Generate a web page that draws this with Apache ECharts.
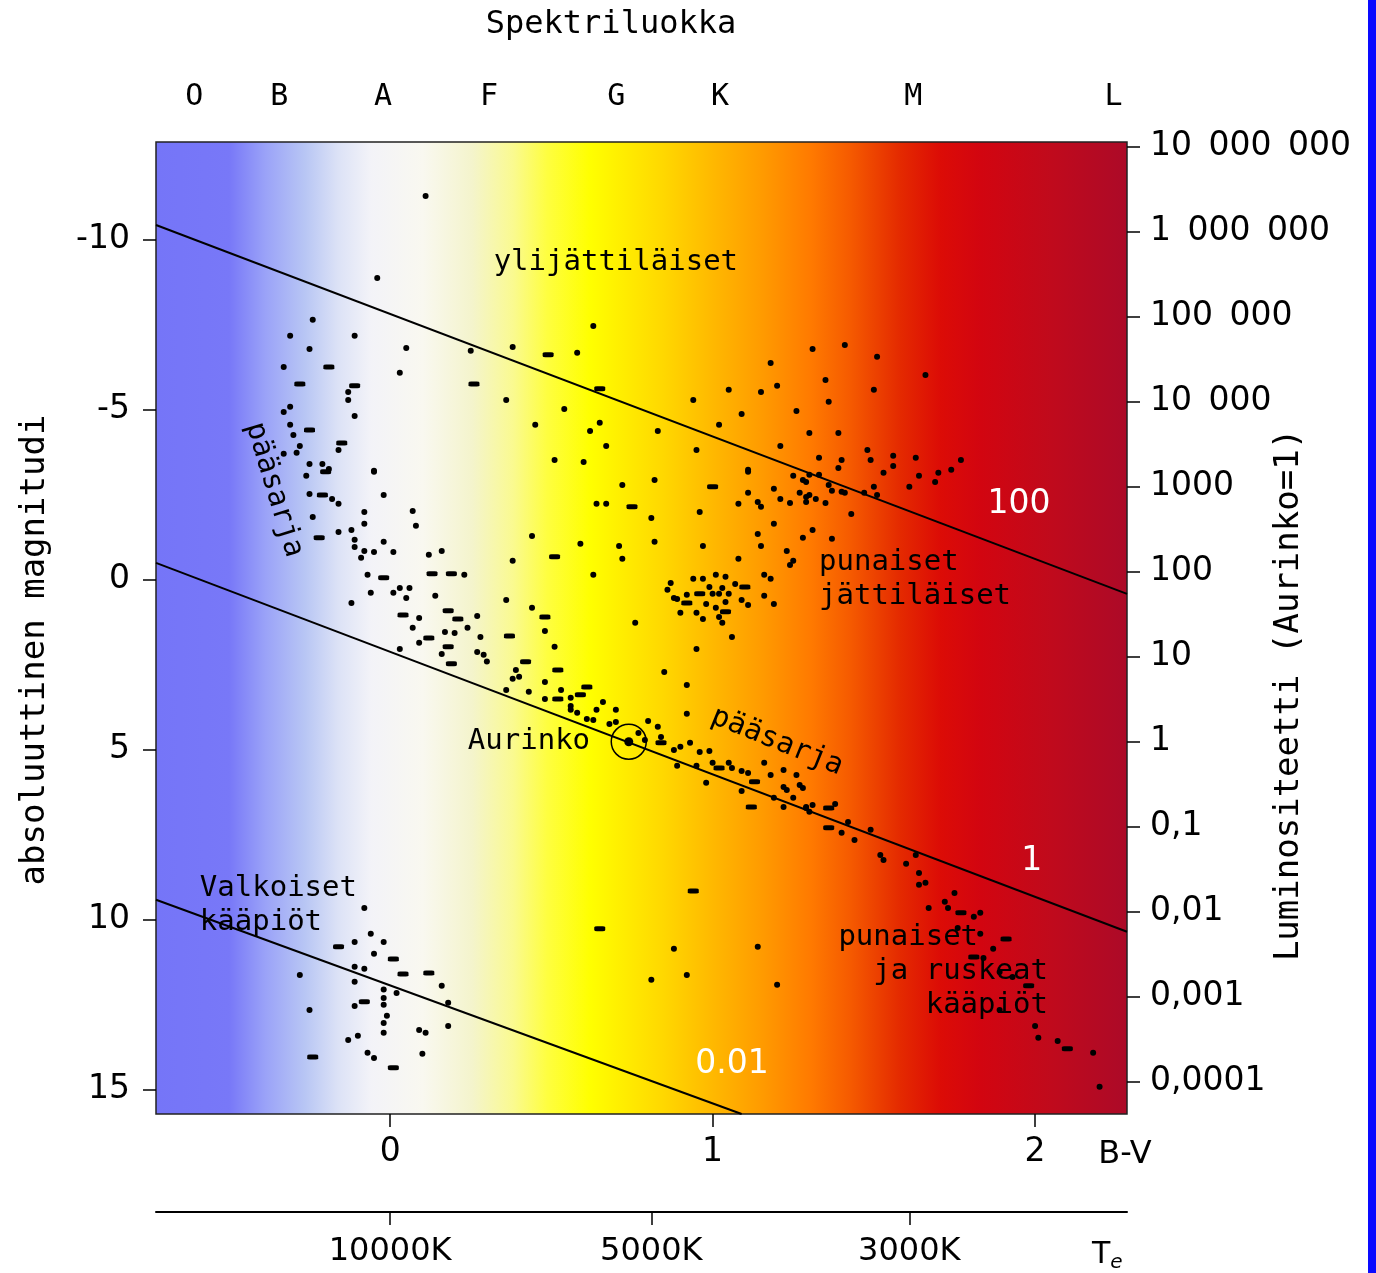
<!DOCTYPE html>
<html>
<head>
<meta charset="utf-8">
<title>HR-diagrammi</title>
<script src="https://cdn.jsdelivr.net/npm/echarts@6/dist/echarts.min.js"></script>
<style>
  html, body { margin: 0; padding: 0; background: #fff; }
  #chart { width: 1376px; height: 1273px; }
</style>
</head>
<body>
<div id="chart"></div>
<script>
// akselit: B-V väri-indeksi ja absoluuttinen magnitudi
const bvMin = -0.726, bvMax = 2.285;
const magMin = -12.88, magMax = 15.71;
const sunMag = 4.76;

const bvTicks = [0, 1, 2];
const magTicks = [-10, -5, 0, 5, 10, 15];

const specLabels = ['O', 'B', 'A', 'F', 'G', 'K', 'M', 'L'];
const specBV = [-0.607, -0.344, -0.022, 0.307, 0.701, 1.023, 1.622, 2.243];

const tempLabels = ['10000K', '5000K', '3000K'];
const tempBV = [0, 0.81, 1.61];

const lumLabels = ['10\u2002000\u2002000', '1\u2002000\u2002000', '100\u2002000', '10\u2002000', '1000', '100', '10', '1', '0,1', '0,01', '0,001', '0,0001'];
const lumExp = [7, 6, 5, 4, 3, 2, 1, 0, -1, -2, -3, -4];

// vakiosäteen viivat (100, 1, 0.01 R_aurinko)
const line100 = [[-0.726, -10.44], [2.285, 0.41]];
const line1 = [[-0.726, -0.50], [2.285, 10.35]];
const line001 = [[-0.726, 9.41], [1.09, 15.71]];
const lineText = ['100', '1', '0.01'];
const lineTextPos = [[1.95, -2.21], [1.99, 8.29], [1.06, 14.26]];

const sun = [[0.74, 4.76]];

// tähdet [B-V, M]
const dots = [
  [0.11,-11.29],[-0.04,-8.88],[-0.24,-7.65],[-0.31,-7.18],[-0.11,-7.18],[-0.25,-6.79],[0.05,-6.82],[0.25,-6.74],
  [-0.33,-6.26],[0.03,-6.09],[-0.13,-5.53],[-0.13,-5.29],[-0.31,-5.09],[-0.33,-4.94],[-0.11,-4.82],[-0.31,-4.56],
  [-0.30,-4.26],[-0.28,-3.94],[-0.16,-3.82],[-0.33,-3.71],[-0.29,-3.74],[-0.25,-3.41],[-0.21,-3.41],[-0.19,-3.26],[-0.05,-3.21],
  [0.63,-7.47],[0.38,-6.85],[0.58,-6.68],[0.36,-5.29],[0.54,-5.03],[0.45,-4.56],[0.65,-4.62],[0.62,-4.38],[0.67,-3.94],
  [0.51,-3.53],[0.60,-3.47],[0.94,-5.29],[1.18,-6.38],[1.05,-5.59],[1.20,-5.71],[1.15,-5.53],[1.26,-4.97],[1.09,-4.88],
  [1.02,-4.56],[0.83,-4.38],[0.95,-3.82],[1.21,-3.94],[1.30,-4.32],[1.11,-3.24],
  [1.31,-6.79],[1.41,-6.91],[1.51,-6.56],[1.66,-6.03],[1.35,-5.88],[1.50,-5.59],[1.36,-5.24],[1.39,-4.32],[1.48,-3.82],
  [1.33,-3.59],[1.40,-3.53],[1.49,-3.53],[1.56,-3.65],[1.63,-3.59],[1.77,-3.53],[1.39,-3.29],[1.56,-3.35],[1.74,-3.24],
  [-0.05,-3.18],[-0.26,-3.06],[-0.25,-2.53],[-0.18,-2.38],[-0.16,-2.24],[-0.02,-2.50],[-0.08,-2.00],[0.07,-2.03],
  [-0.24,-1.85],[-0.08,-1.65],[0.08,-1.59],[-0.16,-1.41],[-0.12,-1.47],[-0.11,-1.18],[-0.02,-1.12],[-0.11,-0.97],
  [-0.08,-0.85],[-0.05,-0.82],[0.01,-0.82],[-0.09,-0.65],[0.12,-0.74],[0.16,-0.85],[-0.07,-0.15],[0.23,-0.15],
  [-0.06,0.38],[0.01,0.38],[0.03,0.24],[0.06,0.24],[0.05,0.53],[0.14,0.47],[-0.12,0.68],[0.09,1.12],[0.07,1.41],
  [0.27,1.06],[0.24,1.41],[0.17,1.53],[0.20,1.56],[0.09,1.85],[0.28,1.68],[0.03,2.03],[0.16,2.18],[0.27,2.12],
  [1.11,-3.18],[0.82,-2.94],[0.72,-2.79],[0.64,-2.24],[0.67,-2.24],[0.81,-1.82],[0.96,-2.00],[1.08,-2.24],[1.11,-2.56],
  [1.14,-2.29],[1.15,-2.15],[1.19,-2.68],[1.21,-2.38],[1.24,-2.26],[1.19,-1.65],[1.25,-3.06],[1.28,-2.94],[1.27,-2.56],
  [1.29,-2.44],[0.44,-1.29],[0.59,-1.06],[0.71,-1.00],[0.82,-1.12],[0.72,-0.62],[0.38,-0.56],[0.63,-0.15],[0.97,-1.00],
  [1.08,-0.62],[1.14,-1.35],[1.15,-1.00],[1.28,-1.24],[1.23,-0.85],[1.25,-0.56],[1.24,-0.44],[1.16,-0.15],[1.18,-0.03],
  [0.94,-0.03],[0.97,-0.03],[1.01,-0.15],[1.04,-0.09],[0.87,0.09],[0.86,0.29],[0.99,0.21],[1.03,0.24],[1.07,0.12],
  [0.88,0.53],[0.89,0.56],[0.92,0.44],[1.00,0.41],[1.02,0.41],[1.05,0.41],[0.98,0.71],[1.01,0.82],[1.04,0.65],
  [1.09,0.59],[1.11,0.74],[1.16,0.47],[1.19,0.71],[0.90,0.97],[0.95,0.97],[0.97,1.15],[1.02,1.09],[1.03,1.26],
  [1.06,1.68],[0.76,1.26],[0.95,2.03],
  [0.36,0.59],[0.44,0.82],[0.48,1.50],[0.51,1.97],[0.29,2.20],[0.30,2.40],[0.39,2.65],[0.40,2.85],[0.38,2.91],
  [0.85,2.71],[0.92,3.09],[0.48,3.00],[0.53,3.24],[0.43,3.29],[0.36,3.24],[0.48,3.50],[0.56,3.47],[0.66,3.59],
  [0.56,3.71],[0.56,3.82],[0.58,3.91],[0.64,3.82],[0.70,3.82],[0.61,4.09],[0.63,4.12],[0.68,4.24],[0.70,4.18],
  [0.80,4.15],[0.92,3.94],[0.77,4.50],[0.83,4.32],[0.84,4.62],[0.79,4.71],[0.88,5.00],[0.90,4.91],[0.93,4.79],
  [0.96,5.06],[0.99,5.03],[0.89,5.47],[0.95,5.47],[1.00,5.38],[1.05,5.38],[1.06,5.53],[1.09,5.62],[1.11,5.68],
  [1.16,5.38],[1.18,5.74],[1.22,5.59],[1.26,5.74],[0.98,5.97],[1.27,6.03],
  [1.53,-3.15],[1.64,-3.06],[1.70,-3.15],[1.69,-2.88],[1.61,-2.74],[1.50,-2.74],[1.51,-2.50],[1.47,-2.56],[1.37,-2.62],
  [1.40,-2.59],[1.41,-2.56],[1.36,-2.79],[1.33,-3.09],[1.29,-2.88],[1.30,-3.09],[1.30,-2.50],[1.32,-2.38],[1.35,-2.26],
  [1.29,-2.29],[1.43,-1.94],[1.31,-1.47],[1.37,-1.21],
  [-0.08,9.65],[-0.06,10.41],[-0.11,10.65],[-0.02,10.65],[-0.05,11.00],[-0.11,11.38],[-0.08,11.44],[-0.28,11.62],
  [-0.11,11.82],[0.16,11.94],[0.02,12.15],[-0.02,12.05],[-0.02,12.30],[-0.02,12.50],[-0.11,12.53],[0.18,12.44],
  [-0.25,12.65],[-0.01,12.82],[-0.02,13.03],[0.09,13.24],[0.11,13.32],[0.18,13.12],[-0.02,13.32],[-0.13,13.53],
  [-0.10,13.41],[-0.07,13.91],[-0.05,14.06],[0.10,13.94],
  [0.88,10.85],[1.14,10.79],[0.92,11.62],[0.81,11.76],[1.20,11.91],[1.09,6.21],[1.22,6.68],[1.19,6.41],[1.22,6.09],
  [1.23,6.18],[1.28,6.12],[1.25,6.41],[1.29,6.68],
  [1.31,6.62],[1.29,6.71],[1.38,6.59],[1.30,6.82],[1.40,7.44],[1.42,7.12],[1.49,7.35],[1.44,7.65],[1.52,8.09],
  [1.53,8.24],[1.60,8.35],[1.63,8.09],[1.64,8.62],[1.64,8.97],[1.66,8.91],[1.75,9.21],[1.72,9.47],[1.67,9.65],
  [1.73,9.65],[1.81,9.91],[1.83,9.79],[1.76,10.24],[1.83,10.41],[1.87,10.85],[1.84,11.12],[1.89,11.53],[1.93,11.68],
  [1.89,12.65],[2.00,13.12],[2.01,13.47],[2.07,13.56],[2.18,13.91],[2.20,14.91]
];

// lyhyet viivamaiset merkit
const dashes = [
  [-0.19,-6.26],[-0.28,-5.76],[-0.11,-5.71],[0.26,-5.76],[-0.25,-4.41],[-0.15,-4.03],[0.49,-6.62],[0.65,-5.62],
  [-0.20,-3.18],[-0.21,-2.50],[-0.22,-1.24],[-0.02,-0.06],[0.13,-0.18],[0.19,-0.18],[0.04,1.03],[0.18,0.91],
  [0.21,1.15],[0.12,1.71],[0.18,1.97],[0.19,2.47],[1.00,-2.74],[0.75,-2.15],[0.51,-0.68],[1.10,0.21],[0.96,0.41],
  [0.92,0.68],[1.04,0.94],[0.48,1.09],[0.37,1.65],[0.42,2.41],[0.52,2.65],[0.61,3.15],[0.59,3.38],[0.52,3.50],
  [0.84,4.79],[1.02,5.53],[1.13,5.94],[-0.16,10.79],[0.01,11.15],[0.04,11.59],[0.12,11.56],[-0.08,12.41],
  [-0.24,14.03],[0.01,14.35],[0.94,9.15],[0.65,10.26],[1.12,6.68],[1.36,6.71],[1.36,7.29],[1.77,9.79],[1.91,10.56],
  [1.81,11.09],[1.98,11.94],[2.10,13.79]
];

const noteText = ['ylijättiläiset', 'pääsarja', 'pääsarja', 'punaiset\njättiläiset', 'Aurinko', 'Valkoiset\nkääpiöt', 'punaiset\n  ja ruskeat\n     kääpiöt'];
const noteBV = [0.70, -0.36, 1.20, 1.33, 0.62, -0.59, 1.39];
const noteMag = [-9.35, -2.65, 4.76, 0.0, 4.76, 9.59, 11.53];

function pickLabel(values, labels) {
  return function (v) {
    for (let i = 0; i < values.length; i++) {
      if (Math.abs(values[i] - v) < 1e-6) return labels[i];
    }
    return '';
  };
}

const lumMag = lumExp.map(function (e) { return sunMag - 2.5 * e; });

const chart = echarts.init(document.getElementById('chart'), null, { renderer: 'canvas' });

const bg = new echarts.graphic.LinearGradient(0, 0, 1, 0, [
  { offset: 0, color: '#7575f8' },
  { offset: 0.076, color: '#7878f8' },
  { offset: 0.113, color: '#9aa2f8' },
  { offset: 0.154, color: '#b8c6f4' },
  { offset: 0.188, color: '#dce2f6' },
  { offset: 0.222, color: '#f3f3f8' },
  { offset: 0.275, color: '#f9f8f0' },
  { offset: 0.326, color: '#f4f4cc' },
  { offset: 0.368, color: '#fafa90' },
  { offset: 0.403, color: '#fefe40' },
  { offset: 0.447, color: '#ffff00' },
  { offset: 0.522, color: '#ffd800' },
  { offset: 0.574, color: '#ffb800' },
  { offset: 0.625, color: '#ff9a00' },
  { offset: 0.674, color: '#ff7a00' },
  { offset: 0.715, color: '#f55a00' },
  { offset: 0.766, color: '#e42a00' },
  { offset: 0.807, color: '#dc0c06' },
  { offset: 0.849, color: '#d20510' },
  { offset: 0.921, color: '#c00a1c' },
  { offset: 1, color: '#ac0a28' }
]);

const sans = 'DejaVu Sans';
const mono = 'DejaVu Sans Mono';
const tick = { show: true, length: 13, lineStyle: { color: '#000', width: 1.5 } };
const noLine = { show: false, onZero: false };

const noteStyle = [
  { align: 'center', rotate: 0 },
  { align: 'center', rotate: -73 },
  { align: 'center', rotate: -22 },
  { align: 'left', rotate: 0 },
  { align: 'right', rotate: 0 },
  { align: 'left', rotate: 0 },
  { align: 'left', rotate: 0 }
];

const option = {
  animation: false,
  backgroundColor: '#fff',
  grid: [
    { left: 156, right: 249, top: 142, bottom: 159, outerBoundsMode: 'none', show: true, backgroundColor: bg, borderColor: '#222', borderWidth: 1.5 },
    { left: 156, right: 249, top: 1211, height: 1, outerBoundsMode: 'none', show: false }
  ],
  xAxis: [
    {
      type: 'value', gridIndex: 0, position: 'bottom', min: bvMin, max: bvMax,
      axisLine: noLine, splitLine: { show: false },
      axisTick: Object.assign({ customValues: bvTicks }, tick),
      axisLabel: { customValues: bvTicks, color: '#000', fontFamily: sans, fontSize: 33, margin: 22 }
    },
    {
      type: 'value', gridIndex: 0, position: 'top', min: bvMin, max: bvMax,
      axisLine: noLine, splitLine: { show: false }, axisTick: { show: false },
      axisLabel: { customValues: specBV, formatter: pickLabel(specBV, specLabels), color: '#000', fontFamily: mono, fontSize: 30, margin: 30 }
    },
    {
      type: 'value', gridIndex: 1, position: 'bottom', min: bvMin, max: bvMax,
      axisLine: { show: true, onZero: false, lineStyle: { color: '#000', width: 2 } },
      splitLine: { show: false },
      axisTick: Object.assign({ customValues: tempBV }, tick),
      axisLabel: { customValues: tempBV, formatter: pickLabel(tempBV, tempLabels), color: '#000', fontFamily: sans, fontSize: 32, margin: 24 }
    }
  ],
  yAxis: [
    {
      type: 'value', gridIndex: 0, position: 'left', inverse: true, min: magMin, max: magMax,
      axisLine: noLine, splitLine: { show: false },
      axisTick: Object.assign({ customValues: magTicks }, tick),
      axisLabel: { customValues: magTicks, color: '#000', fontFamily: sans, fontSize: 33, margin: 26 },
      name: 'absoluuttinen magnitudi', nameLocation: 'middle', nameRotate: 90, nameGap: 104, nameMoveOverlap: false,
      nameTextStyle: { color: '#000', fontFamily: mono, fontSize: 34, padding: [0, 44, 0, 0] }
    },
    {
      type: 'value', gridIndex: 0, position: 'right', inverse: true, min: magMin, max: magMax,
      axisLine: noLine, splitLine: { show: false },
      axisTick: Object.assign({ customValues: lumMag }, tick),
      axisLabel: { customValues: lumMag, formatter: pickLabel(lumMag, lumLabels), color: '#000', fontFamily: sans, fontSize: 33, margin: 23 },
      name: 'Luminositeetti (Aurinko=1)', nameLocation: 'middle', nameRotate: 90, nameGap: 145, nameMoveOverlap: false,
      nameTextStyle: { color: '#000', fontFamily: mono, fontSize: 34, padding: [0, 134, 0, 0] }
    },
    { type: 'value', gridIndex: 1, show: false, min: 0, max: 1, axisLine: noLine }
  ],
  graphic: [
    { type: 'rect', right: 0, top: 0, shape: { width: 8, height: 1273 }, style: { fill: '#0a0aff' } },
    { type: 'text', x: 611, y: 25, style: { text: 'Spektriluokka', font: '32px "DejaVu Sans Mono"', fill: '#000', align: 'center', verticalAlign: 'middle' } },
    { type: 'text', x: 1125, y: 1155, style: { text: 'B-V', font: '32px "DejaVu Sans"', fill: '#000', align: 'center', verticalAlign: 'middle' } },
    {
      type: 'text', x: 1092, y: 1255,
      style: {
        text: '{t|T}{e|e}', verticalAlign: 'middle', fill: '#000',
        rich: {
          t: { fontFamily: sans, fontSize: 30, color: '#000' },
          e: { fontFamily: sans, fontSize: 20, fontStyle: 'italic', color: '#000', padding: [16, 0, 0, 0] }
        }
      }
    }
  ],
  series: [
    { type: 'line', data: line100, showSymbol: false, silent: true, z: 2, lineStyle: { color: '#000', width: 2 } },
    { type: 'line', data: line1, showSymbol: false, silent: true, z: 2, lineStyle: { color: '#000', width: 2 } },
    { type: 'line', data: line001, showSymbol: false, silent: true, z: 2, lineStyle: { color: '#000', width: 2 } },
    { type: 'scatter', data: dots, symbol: 'circle', symbolSize: 6, z: 3, itemStyle: { color: '#000', opacity: 1 } },
    { type: 'scatter', data: dashes, symbol: 'roundRect', symbolSize: [11, 5], z: 3, itemStyle: { color: '#000', opacity: 1 } },
    { type: 'scatter', data: sun, symbol: 'circle', symbolSize: 9, z: 3, itemStyle: { color: '#000', opacity: 1 } },
    { type: 'scatter', data: sun, symbol: 'circle', symbolSize: 35, z: 3, itemStyle: { color: 'rgba(0,0,0,0)', borderColor: '#000', borderWidth: 1.5, opacity: 1 } },
    {
      type: 'scatter', symbolSize: 0, z: 5, silent: true, itemStyle: { opacity: 1 },
      data: noteText.map(function (t, i) {
        return {
          value: [noteBV[i], noteMag[i]], name: t,
          label: { align: noteStyle[i].align, rotate: noteStyle[i].rotate }
        };
      }),
      label: {
        show: true, position: [0, 0], verticalAlign: 'middle', color: '#000',
        fontFamily: mono, fontSize: 29, lineHeight: 34,
        formatter: function (p) { return p.name; }
      }
    },
    {
      type: 'scatter', symbolSize: 0, z: 5, silent: true, itemStyle: { opacity: 1 },
      data: lineText.map(function (t, i) { return { value: lineTextPos[i], name: t }; }),
      label: {
        show: true, position: [0, 0], align: 'center', verticalAlign: 'middle', color: '#fff',
        fontFamily: sans, fontSize: 33, formatter: function (p) { return p.name; }
      }
    }
  ]
};

chart.setOption(option);
</script>
</body>
</html>
